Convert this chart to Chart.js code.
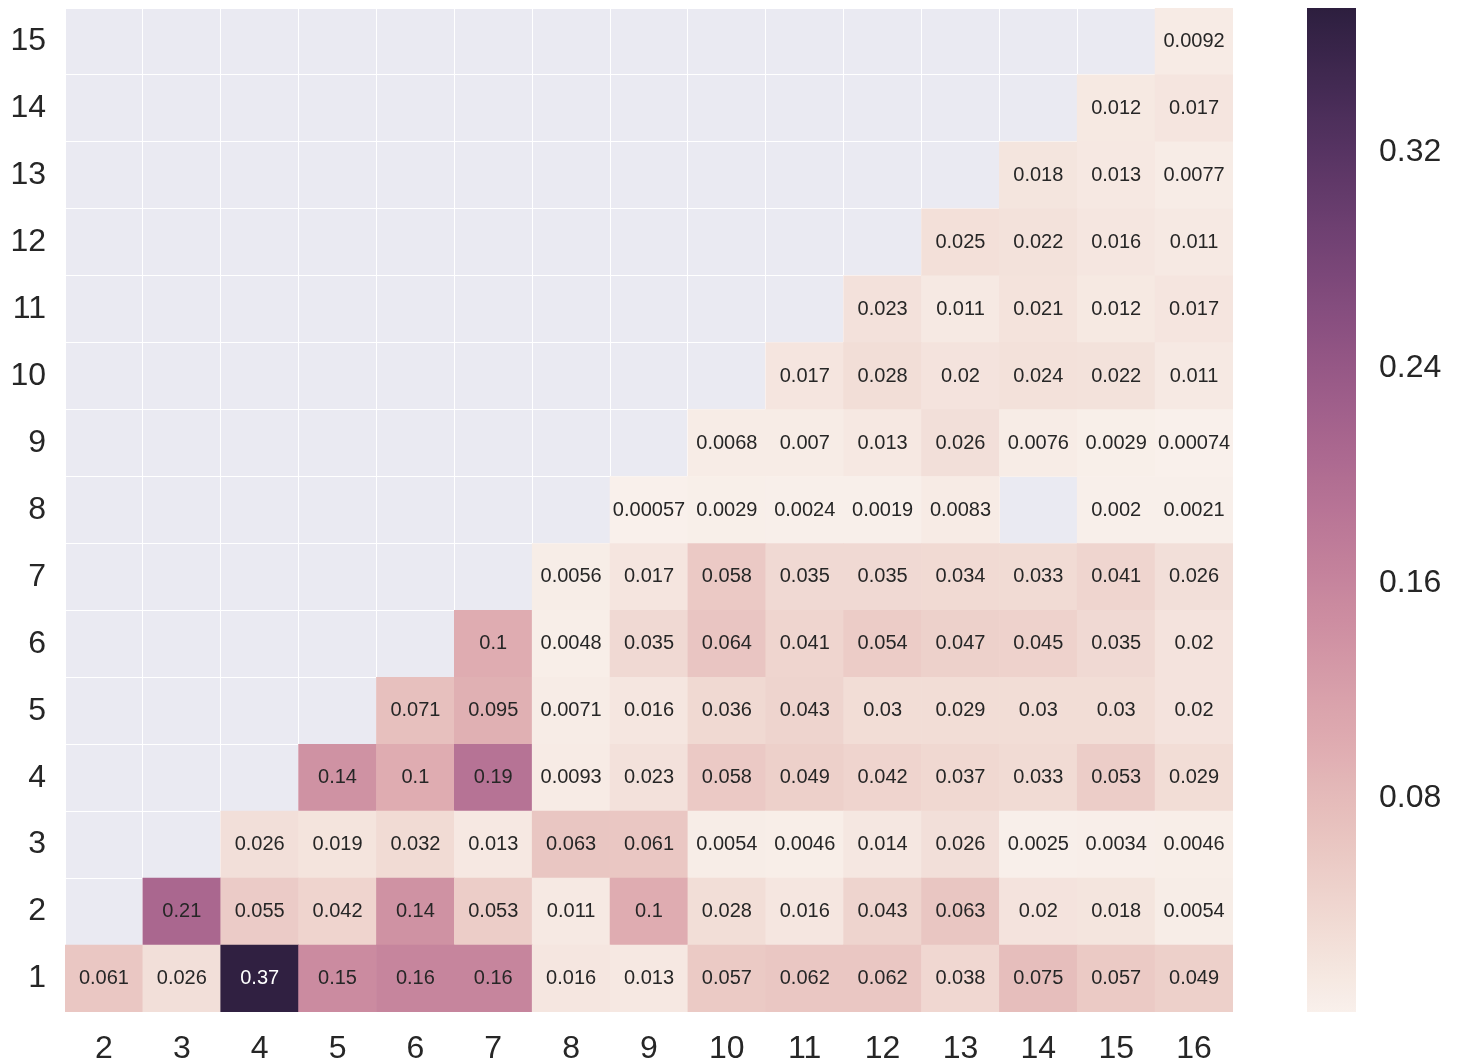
<!DOCTYPE html>
<html>
<head>
<meta charset="utf-8">
<script src="https://cdn.jsdelivr.net/npm/chart.js@4.4.1/dist/chart.umd.min.js"></script>
<style>
  html, body { margin: 0; padding: 0; background: #ffffff; }
  #wrap { position: relative; width: 1461px; height: 1063px; }
  #heatBox { position: absolute; left: 0; top: 0; width: 1240px; height: 1063px; }
  #barBox { position: absolute; left: 1300px; top: 0; width: 161px; height: 1063px; }
</style>
</head>
<body>
<div id="wrap">
  <div id="heatBox"><canvas id="heat"></canvas></div>
  <div id="barBox"><canvas id="cbar"></canvas></div>
</div>
<script>
// --- Data ---
const xLabels = ['2', '3', '4', '5', '6', '7', '8', '9', '10', '11', '12', '13', '14', '15', '16'];
const yLabels = [1, 2, 3, 4, 5, 6, 7, 8, 9, 10, 11, 12, 13, 14, 15];

// one array per row (y value), aligned with xLabels; null = empty cell
const row1  = [0.061, 0.026, 0.37, 0.15, 0.16, 0.16, 0.016, 0.013, 0.057, 0.062, 0.062, 0.038, 0.075, 0.057, 0.049];
const row2  = [null, 0.21, 0.055, 0.042, 0.14, 0.053, 0.011, 0.1, 0.028, 0.016, 0.043, 0.063, 0.02, 0.018, 0.0054];
const row3  = [null, null, 0.026, 0.019, 0.032, 0.013, 0.063, 0.061, 0.0054, 0.0046, 0.014, 0.026, 0.0025, 0.0034, 0.0046];
const row4  = [null, null, null, 0.14, 0.1, 0.19, 0.0093, 0.023, 0.058, 0.049, 0.042, 0.037, 0.033, 0.053, 0.029];
const row5  = [null, null, null, null, 0.071, 0.095, 0.0071, 0.016, 0.036, 0.043, 0.03, 0.029, 0.03, 0.03, 0.02];
const row6  = [null, null, null, null, null, 0.1, 0.0048, 0.035, 0.064, 0.041, 0.054, 0.047, 0.045, 0.035, 0.02];
const row7  = [null, null, null, null, null, null, 0.0056, 0.017, 0.058, 0.035, 0.035, 0.034, 0.033, 0.041, 0.026];
const row8  = [null, null, null, null, null, null, null, 0.00057, 0.0029, 0.0024, 0.0019, 0.0083, null, 0.002, 0.0021];
const row9  = [null, null, null, null, null, null, null, null, 0.0068, 0.007, 0.013, 0.026, 0.0076, 0.0029, 0.00074];
const row10 = [null, null, null, null, null, null, null, null, null, 0.017, 0.028, 0.02, 0.024, 0.022, 0.011];
const row11 = [null, null, null, null, null, null, null, null, null, null, 0.023, 0.011, 0.021, 0.012, 0.017];
const row12 = [null, null, null, null, null, null, null, null, null, null, null, 0.025, 0.022, 0.016, 0.011];
const row13 = [null, null, null, null, null, null, null, null, null, null, null, null, 0.018, 0.013, 0.0077];
const row14 = [null, null, null, null, null, null, null, null, null, null, null, null, null, 0.012, 0.017];
const row15 = [null, null, null, null, null, null, null, null, null, null, null, null, null, null, 0.0092];
const rows = [row1, row2, row3, row4, row5, row6, row7, row8, row9, row10, row11, row12, row13, row14, row15];

// colour scale range and colorbar tick labels
const colorMin = 0.00057;
const colorMax = 0.3737;
const cbarTicks = [0.08, 0.16, 0.24, 0.32];

// --- Colour map (cubehelix, start 0, rot .4, hue .8, light .95 -> dark .15) ---
function cubehelix(x) {
    const a = 0.8 * x * (1 - x) / 2;
    const phi = 2 * Math.PI * (0.4 * x);
    const ch = (p0, p1) => Math.min(1, Math.max(0, x + a * (p0 * Math.cos(phi) + p1 * Math.sin(phi))));
    return [ch(-0.14861, 1.78277), ch(-0.29227, -0.90649), ch(1.97294, 0)];
}
function rgbFor(v) {
    let t = (v - colorMin) / (colorMax - colorMin);
    t = Math.min(1, Math.max(0, t));
    return cubehelix(0.95 - 0.8 * t);
}
function cssFor(v) {
    const c = rgbFor(v);
    return `rgb(${Math.round(c[0] * 255)}, ${Math.round(c[1] * 255)}, ${Math.round(c[2] * 255)})`;
}
function textColorFor(v) {
    const lin = rgbFor(v).map(c => c <= 0.03928 ? c / 12.92 : Math.pow((c + 0.055) / 1.055, 2.4));
    const lum = 0.2126 * lin[0] + 0.7152 * lin[1] + 0.0722 * lin[2];
    return lum > 0.1 ? '#262626' : '#ffffff';
}

const FONT = "'Liberation Sans', Arial, sans-serif";
const TEXT = '#262626';

// background of the axes area
const bgPlugin = {
    id: 'bg',
    beforeDraw(chart) {
        const { ctx, chartArea: a } = chart;
        ctx.save();
        ctx.fillStyle = '#eaeaf2';
        ctx.fillRect(a.left, a.top, a.right - a.left, a.bottom - a.top);
        ctx.restore();
    }
};

// cell annotations
const annotPlugin = {
    id: 'annot',
    afterDraw(chart) {
        const ctx = chart.ctx;
        ctx.save();
        ctx.font = `20px ${FONT}`;
        ctx.textAlign = 'center';
        ctx.textBaseline = 'middle';
        chart.data.datasets.forEach((ds, di) => {
            const meta = chart.getDatasetMeta(di);
            meta.data.forEach((bar, i) => {
                const v = rows[di][i];
                if (v === null) return;
                const c = bar.getCenterPoint();
                ctx.fillStyle = textColorFor(v);
                ctx.fillText(String(v), c.x, c.y);
            });
        });
        ctx.restore();
    }
};

function noPad(s) {
    s.paddingTop = 0;
    s.paddingBottom = 0;
}

// --- Heatmap ---
const datasets = rows.map((row, ri) => ({
    label: String(yLabels[ri]),
    data: row.map(v => v === null ? null : [yLabels[ri] - 0.5, yLabels[ri] + 0.5]),
    backgroundColor: row.map(v => v === null ? 'rgba(0,0,0,0)' : cssFor(v)),
    borderWidth: 0,
    barPercentage: 1,
    categoryPercentage: 1,
    grouped: false
}));

new Chart(document.getElementById('heat'), {
    type: 'bar',
    data: { labels: xLabels, datasets: datasets },
    options: {
        responsive: true,
        maintainAspectRatio: false,
        animation: false,
        layout: { padding: { top: 8, right: 7, left: 0, bottom: 0 } },
        plugins: { legend: { display: false }, tooltip: { enabled: false } },
        scales: {
            x: {
                z: 1,
                offset: true,
                grid: { offset: true, color: '#ffffff', lineWidth: 1, drawTicks: false },
                border: { display: false },
                ticks: { color: TEXT, font: { family: FONT, size: 32 }, padding: 18, maxRotation: 0 },
                afterFit: s => { s.height = 51; s.paddingLeft = 0; s.paddingRight = 0; }
            },
            y: {
                type: 'linear',
                z: 1,
                min: 0.5,
                max: 15.5,
                afterBuildTicks: s => { s.ticks = yLabels.map(v => ({ value: v })); },
                grid: { offset: true, color: '#ffffff', lineWidth: 1, drawTicks: false },
                border: { display: false },
                ticks: { color: TEXT, font: { family: FONT, size: 32 }, padding: 19 },
                afterFit: s => { s.width = 65; noPad(s); }
            }
        }
    },
    plugins: [bgPlugin, annotPlugin]
});

// --- Colorbar ---
new Chart(document.getElementById('cbar'), {
    type: 'bar',
    data: {
        labels: [''],
        datasets: [{
            data: [[colorMin, colorMax]],
            borderWidth: 0,
            barPercentage: 1,
            categoryPercentage: 1,
            backgroundColor: (c) => {
                const chart = c.chart;
                const ys = chart.scales.y;
                if (!ys || !chart.chartArea) return '#ccc';
                const g = chart.ctx.createLinearGradient(0, ys.getPixelForValue(colorMin), 0, ys.getPixelForValue(colorMax));
                const n = 64;
                for (let i = 0; i <= n; i++) {
                    g.addColorStop(i / n, cssFor(colorMin + (colorMax - colorMin) * i / n));
                }
                return g;
            }
        }]
    },
    options: {
        responsive: true,
        maintainAspectRatio: false,
        animation: false,
        layout: { padding: { top: 8, right: 0, left: 7, bottom: 51 } },
        plugins: { legend: { display: false }, tooltip: { enabled: false } },
        scales: {
            x: { display: false },
            y: {
                position: 'right',
                min: colorMin,
                max: colorMax,
                afterBuildTicks: s => { s.ticks = cbarTicks.map(v => ({ value: v })); },
                grid: { display: false, drawTicks: false },
                border: { display: false },
                ticks: { color: TEXT, font: { family: FONT, size: 32 }, padding: 23, callback: v => String(v) },
                afterFit: s => { s.width = 105; noPad(s); }
            }
        }
    }
});
</script>
</body>
</html>
